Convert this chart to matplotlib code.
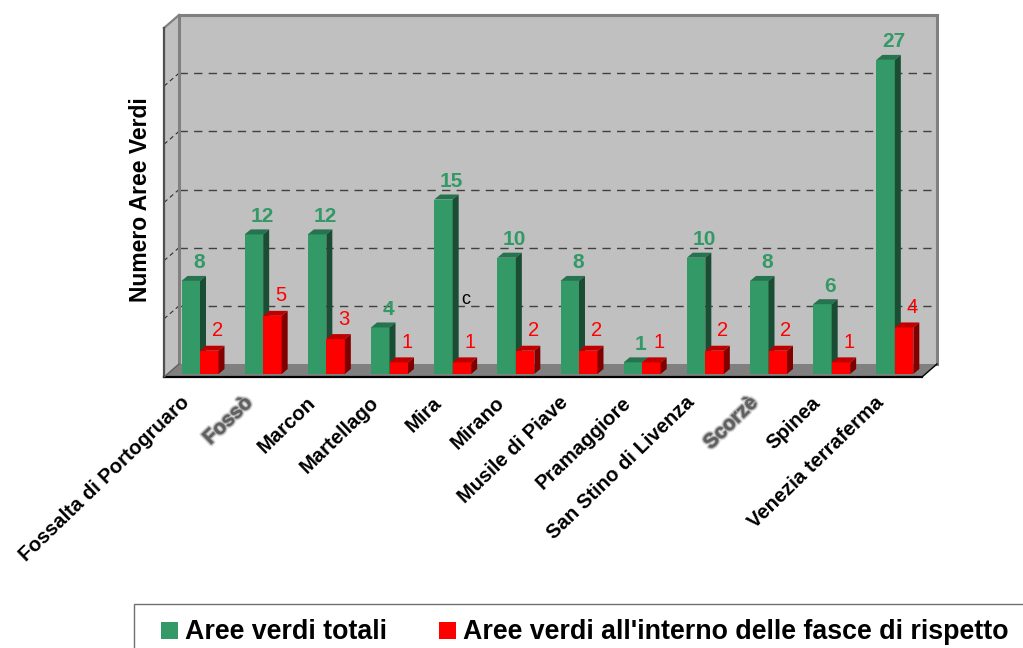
import matplotlib
matplotlib.use("Agg")
import matplotlib.pyplot as plt
import matplotlib.patheffects as pe
from matplotlib.patches import Polygon, Rectangle

plt.rcParams['font.family'] = ['Liberation Sans', 'DejaVu Sans']

comuni = ["Fossalta di Portogruaro", "Fossò", "Marcon", "Martellago", "Mira", "Mirano",
          "Musile di Piave", "Pramaggiore", "San Stino di Livenza", "Scorzè", "Spinea",
          "Venezia terraferma"]
aree_totali = [8, 12, 12, 4, 15, 10, 8, 1, 10, 8, 6, 27]
aree_rispetto = [2, 5, 3, 1, 1, 2, 2, 1, 2, 2, 1, 4]
griglia = [5, 10, 15, 20, 25]
blurred = ["Fossò", "Scorzè"]

W, H = 1023, 648
fig = plt.figure(figsize=(W / 100, H / 100), dpi=100)
ax = fig.add_axes([164 / W, 1 - 377 / H, 758 / W, 349 / H])
ax.set_xlim(0, 12)
ax.set_ylim(0, 30)
ax.patch.set_visible(False)
for s in ax.spines.values():
    s.set_visible(False)

# pixel sizes turned into data units
ux = 758 / 12
uy = 349 / 30
wall_dx, wall_dy = 15 / ux, 13 / uy
bar_w = 18.5 / ux
bar_dx, bar_dy = 6 / ux, 5 / uy
bar_x0 = 36 / ux
bar_y0 = 3 / uy


def poly(points, color, z):
    ax.add_patch(Polygon(points, closed=True, facecolor=color, edgecolor="none", zorder=z, clip_on=False))


def line(xs, ys, color, lw, z=2, **kw):
    ax.plot(xs, ys, color=color, lw=lw, zorder=z, clip_on=False, solid_capstyle="projecting", **kw)


# walls and floor
poly([(wall_dx, wall_dy), (12 + wall_dx, wall_dy), (12 + wall_dx, 30 + wall_dy), (wall_dx, 30 + wall_dy)], "#c0c0c0", 1)
poly([(0, 0), (wall_dx, wall_dy), (wall_dx, 30 + wall_dy), (0, 30)], "#c0c0c0", 1)
poly([(0, 0), (12, 0), (12 + wall_dx, wall_dy), (wall_dx, wall_dy)], "#808080", 1)

for g in griglia:
    line([wall_dx, 12 + wall_dx], [g + wall_dy, g + wall_dy], "#404040", 1.0, linestyle=(0, (6, 4.5)))
    line([0, wall_dx], [g, g + wall_dy], "#303030", 0.8, linestyle=(0, (4, 3)))

line([wall_dx, 12 + wall_dx], [30 + wall_dy, 30 + wall_dy], "#808080", 2.2)
line([wall_dx, wall_dx], [wall_dy, 30 + wall_dy], "#808080", 2.2)
line([12 + wall_dx, 12 + wall_dx], [wall_dy, 30 + wall_dy], "#808080", 2.2)
line([0, wall_dx], [30, 30 + wall_dy], "#808080", 1.6)
line([0, 0], [0, 30], "#505050", 1.6)
line([0, 12], [0, 0], "#000000", 1.6)
line([12, 12 + wall_dx], [0, wall_dy], "#000000", 1.0)
line([0, wall_dx], [0, wall_dy], "#606060", 1.0)


def bars(values, shift, front, top, side, z):
    xs = [i + bar_x0 + shift for i in range(len(values))]
    ax.bar(xs, values, width=bar_w, bottom=bar_y0, align="edge", color=front, zorder=z, clip_on=False)
    for x, v in zip(xs, values):
        y = bar_y0 + v
        poly([(x, y), (x + bar_w, y), (x + bar_w + bar_dx, y + bar_dy), (x + bar_dx, y + bar_dy)], top, z)
        poly([(x + bar_w, bar_y0), (x + bar_w + bar_dx, bar_y0 + bar_dy),
              (x + bar_w + bar_dx, y + bar_dy), (x + bar_w, y)], side, z)
    return xs


x_tot = bars(aree_totali, -bar_w, "#339966", "#267350", "#1a4d33", 3)
x_risp = bars(aree_rispetto, 0, "#ff0000", "#bf0000", "#800000", 4)

for x, v in zip(x_tot, aree_totali):
    ax.annotate(str(v), (x + bar_w / 2, bar_y0 + v), xytext=(8, 18), textcoords="offset pixels",
                ha="center", va="center", fontsize=15, fontweight="bold", color="#339966", zorder=6)
for x, v in zip(x_risp, aree_rispetto):
    ax.annotate(str(v), (x + bar_w / 2, bar_y0 + v), xytext=(8, 20), textcoords="offset pixels",
                ha="center", va="center", fontsize=14.5, color="#ff0000", zorder=6)

# stray letter present in the original
ax.text(4.77, 6.65, "c", fontsize=13, color="black", ha="center", va="center", zorder=6)

ax.set_xticks([i + 0.5 - 16 / ux for i in range(len(comuni))])
ax.set_xticklabels(comuni, rotation=44, ha="right", va="top", rotation_mode="anchor", fontsize=14.55, fontweight="bold")
ax.set_yticks([])
ax.tick_params(axis="x", length=0, pad=11.5)
for lab in ax.get_xticklabels():
    if lab.get_text() in blurred:
        lab.set_color("#606060")
        lab.set_path_effects([pe.withStroke(linewidth=3.2, foreground="#c8c8c8", alpha=0.6),
                              pe.withStroke(linewidth=1.6, foreground="#909090", alpha=0.7)])

ax.set_ylabel("Numero Aree Verdi", fontsize=16.5, fontweight="bold")
ax.yaxis.set_label_coords((152 - 164) / 758, 1 - (200 - 28) / 349)

# legend box runs off the right and bottom edge
fig.add_artist(Rectangle((134 / W, -0.02), 1, 1 - 604 / H + 0.02, transform=fig.transFigure,
                         facecolor="white", edgecolor="#707070", lw=1.0))
fig.add_artist(Rectangle((161 / W, 1 - 639 / H), 17 / W, 17 / H, transform=fig.transFigure,
                         facecolor="#339966", edgecolor="none"))
fig.add_artist(Rectangle((439 / W, 1 - 639 / H), 17 / W, 17 / H, transform=fig.transFigure,
                         facecolor="#ff0000", edgecolor="none"))
fig.text(185 / W, 1 - 639 / H, "Aree verdi totali", fontsize=19.25, fontweight="bold", va="baseline")
fig.text(463 / W, 1 - 639 / H, "Aree verdi all'interno delle fasce di rispetto", fontsize=19.25,
         fontweight="bold", va="baseline")

fig.savefig("out.png", dpi=100)
